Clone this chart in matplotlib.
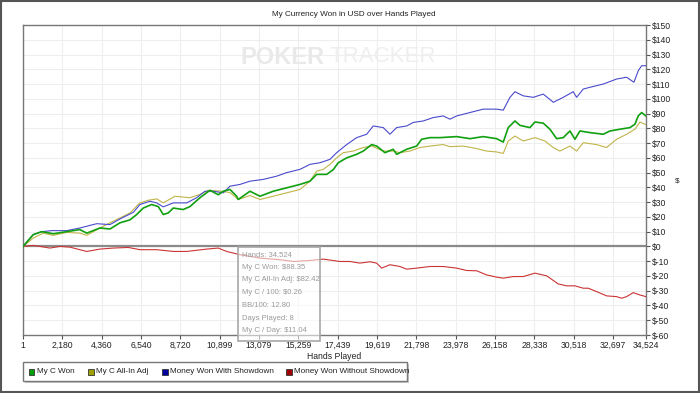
import matplotlib
matplotlib.use('Agg')
import matplotlib.pyplot as plt
from matplotlib.patches import Rectangle
from matplotlib.ticker import FuncFormatter

# series: hands played -> dollars
won_hands = [1, 571, 1036, 1679, 2421, 3158, 3530, 4267, 4821, 5375, 5929, 6300, 6666, 7131, 7497,
             7774, 8051, 8328, 8882, 9253, 9807, 10362, 10821, 11099, 11470, 11841, 11930, 12578,
             13132, 13869, 14612, 15349, 15903, 16274, 16828, 17194, 17471, 17937, 18491, 18856,
             19322, 19598, 20058, 20518, 20707, 21261, 21815, 22092, 22552, 23106, 24031, 24768,
             25505, 26248, 26614, 26891, 27262, 27539, 28093, 28370, 28830, 29201, 29572, 29938,
             30309, 30586, 30863, 31417, 32154, 32526, 33080, 33634, 33911, 34094, 34283, 34524]
won_vals = [0, 8, 10, 8.6, 10, 11.4, 9, 12.5, 11.8, 16, 18, 21.6, 26, 28.4, 27,
            21.6, 22.7, 26, 25, 27, 33, 38, 35, 37.4, 38.6, 34, 31.8, 37.4,
            34, 37.4, 39.7, 42, 44.2, 48.8, 48.8, 52, 56.7, 60, 62.4, 64.6,
            69, 68, 63.5, 65.8, 62.4, 65.8, 68, 72.6, 73.7, 73.7, 74.4, 73,
            74.4, 73, 70.7, 80.5, 85, 82, 80.5, 84.3, 83.5, 79.4, 73, 73.7,
            78.2, 72.6, 78.2, 77.1, 76, 78.2, 79.4, 80.5, 82.8, 88.4, 90.7, 88.35]

adj_hands = [1, 571, 1125, 1679, 2421, 3158, 3530, 4267, 4821, 5375, 5929, 6483, 6943, 7408,
             7774, 8422, 9253, 9807, 10267, 10916, 11470, 11930, 12578, 13132, 13869, 14612,
             15349, 15903, 16274, 16640, 17011, 17382, 17748, 18302, 18856, 19322, 19964, 20518,
             20889, 21443, 21997, 22552, 23289, 23660, 24398, 25140, 25694, 26248, 26614, 26891,
             27262, 27722, 28370, 28924, 29383, 29754, 30309, 30680, 31046, 31785, 32339, 32896,
             33450, 33911, 34188, 34524]
adj_vals = [0, 5.7, 9, 7.5, 9.5, 9, 7.5, 12.5, 16, 19.3, 22.7, 29.5, 31.3, 32.2,
            29.5, 34, 33, 35.2, 38, 37.5, 36.5, 31.8, 34.5, 31.8, 34, 36.3,
            38.6, 44.2, 51, 52.2, 55.6, 60, 63.5, 64.6, 67, 68, 64.6, 64.6,
            63.5, 64.6, 67, 68, 69, 67.6, 68, 66.3, 64.6, 64, 63, 71.4,
            74.8, 71.4, 73.7, 71.4, 67, 64.6, 68, 64.6, 70.3, 69, 67, 72.6,
            76, 79.4, 84.3, 82.42]

sd_hands = [1, 571, 1036, 1590, 2421, 3158, 4084, 4821, 5375, 6112, 6483, 7037, 7408, 7774,
            8328, 9071, 9625, 10085, 10545, 11099, 11470, 12024, 12578, 13315, 14058, 14612,
            15349, 15903, 16457, 17011, 17382, 17937, 18491, 19045, 19410, 19964, 20335, 20707,
            21261, 21626, 22180, 22734, 23289, 23660, 24031, 24768, 25505, 26248, 26614, 26985,
            27262, 27722, 28276, 28830, 29295, 29383, 29938, 30492, 30680, 31046, 31417, 32154,
            32896, 33450, 33855, 34094, 34283, 34524]
sd_vals = [0, 8, 10, 10.7, 10.7, 12.5, 15.4, 14.8, 18.6, 23.1, 28.4, 30.6, 29.5, 26.8,
           29.5, 29.5, 33, 37.4, 37.4, 36.3, 40.8, 42, 44.2, 45.4, 47.6, 50,
           52.2, 55.6, 56.7, 59, 63.5, 69, 73.7, 76, 81.6, 80.5, 76, 80.5,
           81.6, 84, 85, 87.3, 88.4, 86.2, 88.4, 90.7, 93, 93, 92.3, 101,
           104.8, 102, 101, 103.2, 98.6, 97.6, 101, 104.8, 101, 106.6, 107.8, 110,
           113.4, 114.6, 111.2, 119, 122.4, 122.4]

nsd_hands = [1, 571, 1496, 2050, 2604, 3530, 4267, 5004, 5835, 6483, 7408, 8328, 9071, 10179,
             10821, 11287, 12024, 13132, 14240, 14977, 15720, 16640, 17565, 18119, 18673, 19227,
             19598, 19875, 20335, 20889, 21261, 21815, 22552, 23289, 24031, 24585, 25140, 25694,
             26248, 26614, 27168, 27722, 28370, 29018, 29661, 30126, 30586, 31046, 31323, 31785,
             32339, 32896, 33173, 33450, 33816, 34188, 34524]
nsd_vals = [0, 0.7, -1.1, 0, -0.5, -3.4, -1.8, -1.1, -0.7, -2.2, -2.2, -3.4, -3.4, -1.8,
            -1.1, -3.4, -5.6, -7.9, -9, -10.2, -9.7, -8.6, -10.2, -10.2, -11.3, -10.4,
            -11.3, -14.7, -12.4, -13.6, -15.4, -14.7, -13.6, -13.6, -14.7, -16.3, -16.5, -19.3,
            -20.8, -21.5, -20.4, -20.4, -18.1, -19.9, -25.4, -26.7, -26.7, -28.3, -28.3, -30.6,
            -33.5, -34, -35.1, -34, -31.3, -32.9, -34]

x_ticks = [1, 2180, 4360, 6540, 8720, 10899, 13079, 15259, 17439, 19619, 21798, 23978,
           26158, 28338, 30518, 32697, 34524]
y_ticks = list(range(-60, 151, 10))

tooltip_lines = ['Hands: 34,524', 'My C Won: $88.35', 'My C All-In Adj: $82.42',
                 'My C / 100: $0.26', 'BB/100: 12.80', 'Days Played: 8', 'My C / Day: $11.04']

legend_labels = ['My C Won', 'My C All-In Adj', 'Money Won With Showdown', 'Money Won Without Showdown']
legend_colors = ['#00a000', '#a0a000', '#0000a0', '#a00000']

plt.rcParams['font.family'] = ['Liberation Sans', 'DejaVu Sans']
fs = 5.9

fig = plt.figure(figsize=(7, 3.93), dpi=100)
fig.patch.set_facecolor('white')
fig.add_artist(Rectangle((0.001, 0.002), 0.997, 0.995, transform=fig.transFigure,
                         fill=False, edgecolor='#555555', linewidth=1.5))

ax = fig.add_axes([23 / 700, 1 - 335 / 393, (646 - 23) / 700, (335 - 25) / 393])
ax.set_xlim(1, 34524)
ax.set_ylim(-60, 150)

# watermark
fig.text(240 / 700, 1 - 57 / 393, 'POKER', fontsize=17, fontweight='bold',
         color='#e9e9e9', ha='left', va='center', zorder=0)
fig.text(329 / 700, 1 - 57 / 393, 'TRACKER', fontsize=16,
         color='#efefef', ha='left', va='center', zorder=0)

ax.grid(True, color='#eeeeee', linewidth=0.8)
ax.set_axisbelow(True)
ax.patch.set_alpha(0)
ax.axhline(0, color='#8a8a8a', linewidth=1.6, zorder=2)

ax.plot(nsd_hands, nsd_vals, color='#cc3333', linewidth=0.8, zorder=3)
ax.plot(adj_hands, adj_vals, color='#c0b448', linewidth=0.8, zorder=3)
ax.plot(sd_hands, sd_vals, color='#4a4acc', linewidth=0.8, zorder=3)
ax.plot(won_hands, won_vals, color='#10a010', linewidth=1.2, zorder=4)

ax.set_xticks(x_ticks)
ax.xaxis.set_major_formatter(FuncFormatter(lambda v, p: '{:,}'.format(int(v))))
ax.set_yticks(y_ticks)
ax.yaxis.set_major_formatter(FuncFormatter(lambda v, p: '${:d}'.format(int(v))))
ax.yaxis.tick_right()
ax.tick_params(axis='both', labelsize=fs + 0.3, length=3, width=0.8, color='#555555', pad=1.5,
               labelcolor='#222222')
for s in ax.spines.values():
    s.set_color('#777777')
    s.set_linewidth(1.0)

ax.set_xlabel('Hands Played', fontsize=fs + 0.3, color='#222222', labelpad=1)
fig.text(677 / 700, 1 - 181 / 393, '$', fontsize=fs, color='#222222', ha='center', va='center')
fig.text(354 / 700, 1 - 14 / 393, 'My Currency Won in USD over Hands Played', fontsize=fs,
         color='#222222', ha='center', va='center')

# hover tooltip
fig.add_artist(Rectangle((238 / 700, 1 - 341 / 393), 82 / 700, 94 / 393, transform=fig.transFigure,
                         facecolor='white', alpha=0.55, edgecolor='none', zorder=5))
fig.add_artist(Rectangle((238 / 700, 1 - 341 / 393), 82 / 700, 94 / 393, transform=fig.transFigure,
                         fill=False, edgecolor='#a8a8a8', linewidth=1.2, zorder=6))
for i, line in enumerate(tooltip_lines):
    fig.text(242 / 700, 1 - (254.5 + i * 12.7) / 393, line, fontsize=5.5, color='#9a9a9a',
             ha='left', va='center', zorder=7)

# legend box
fig.add_artist(Rectangle((25 / 700, 1 - 383 / 393), 384 / 700, 19 / 393, transform=fig.transFigure,
                         facecolor='#c8c8c8', edgecolor='none'))
fig.add_artist(Rectangle((23 / 700, 1 - 381 / 393), 384 / 700, 19 / 393, transform=fig.transFigure,
                         facecolor='white', edgecolor='#777777', linewidth=1.0))
legend_x = [29, 88, 162, 286]
for lx, lab, col in zip(legend_x, legend_labels, legend_colors):
    fig.add_artist(Rectangle((lx / 700, 1 - 374.5 / 393), 5.5 / 700, 5.5 / 393,
                             transform=fig.transFigure, facecolor=col, edgecolor='#333333',
                             linewidth=0.6))
    fig.text((lx + 8) / 700, 1 - 371.5 / 393, lab, fontsize=fs, color='#222222',
             ha='left', va='center')

fig.savefig('out.png', dpi=100)
